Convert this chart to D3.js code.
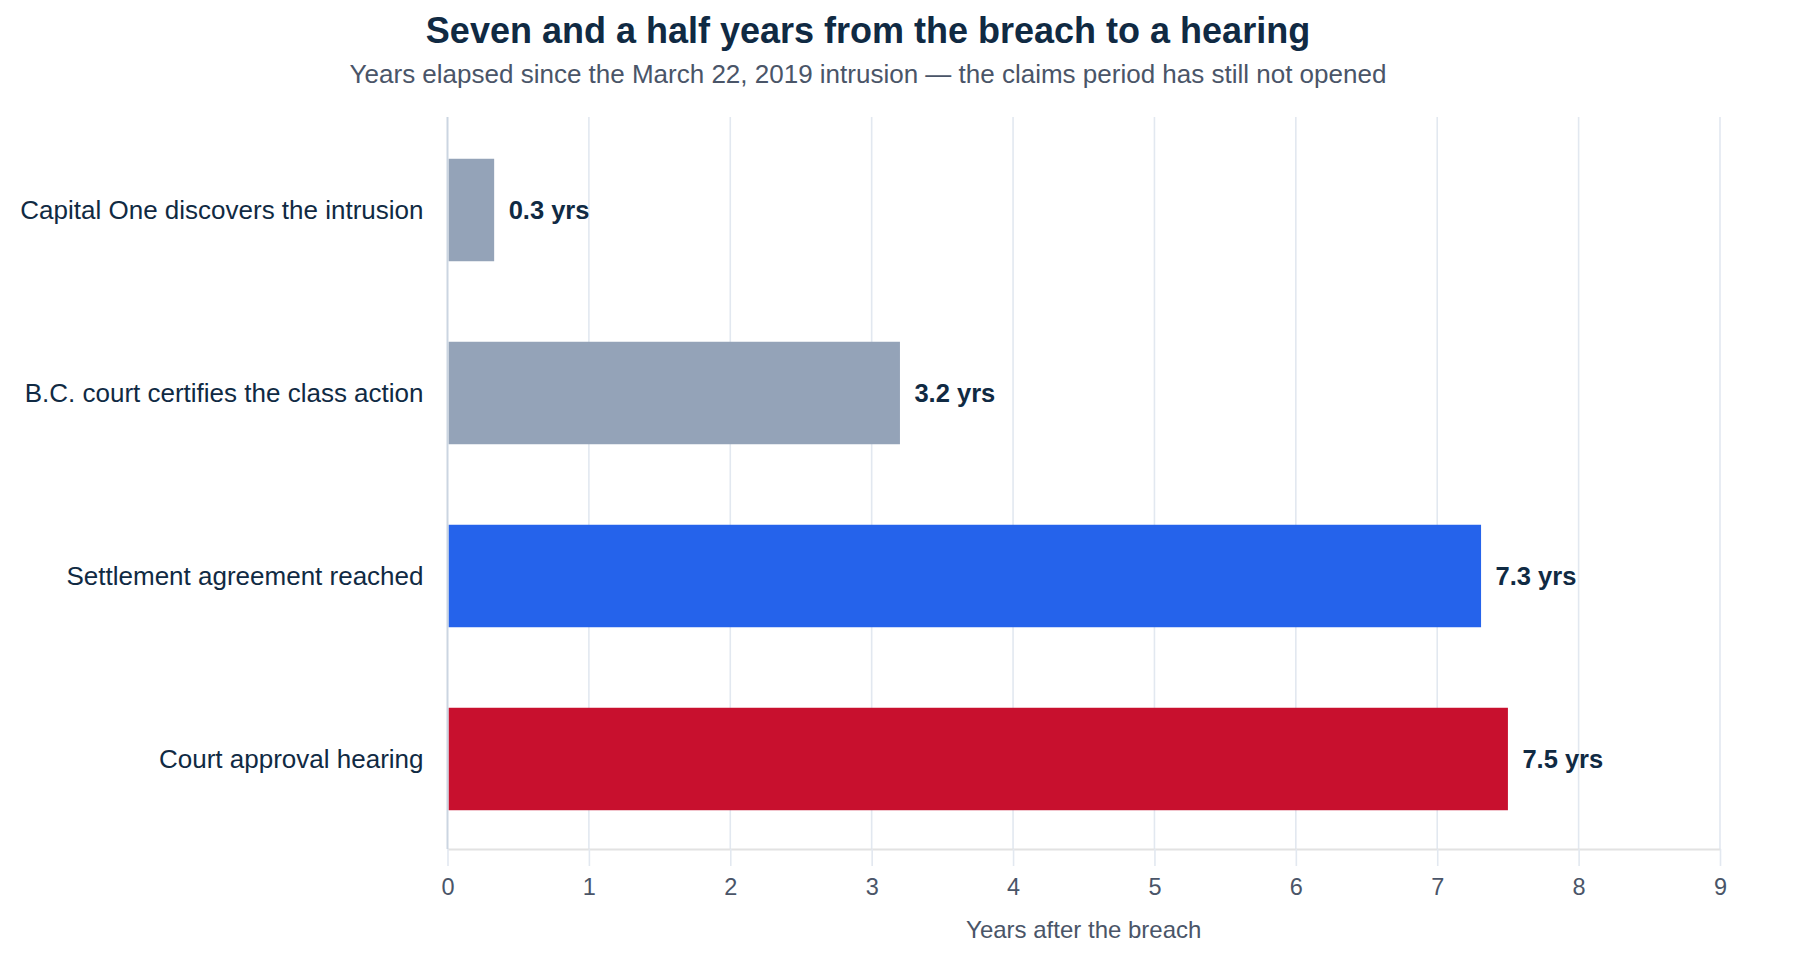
<!DOCTYPE html>
<html>
<head>
  <meta charset="utf-8">
  <title>Seven and a half years from the breach to a hearing</title>
  <style>
    body { margin: 0; background: #fff; }
    svg text { font-family: "Liberation Sans", Arial, sans-serif; }
  </style>
</head>
<body>
  <div id="chart"></div>

  <script src="https://d3js.org/d3.v7.min.js"></script>
  <script>
    // Data
    const milestones = [
      "Capital One discovers the intrusion",
      "B.C. court certifies the class action",
      "Settlement agreement reached",
      "Court approval hearing"
    ];
    const yearsAfter = [0.33, 3.2, 7.31, 7.5];
    const barColors = ["#94a3b8", "#94a3b8", "#2563eb", "#c8102e"];
    const xTicks = [0, 1, 2, 3, 4, 5, 6, 7, 8, 9];

    const data = milestones.map((m, i) => ({ label: m, value: yearsAfter[i], color: barColors[i] }));

    const width = 1800, height = 960;
    const margin = { top: 117, right: 80, bottom: 111, left: 447.5 };

    const svg = d3.select("#chart")
      .append("svg")
      .attr("width", width)
      .attr("height", height)
      .attr("viewBox", [0, 0, width, height]);

    // Scales
    const xScale = d3.scaleLinear()
      .domain([0, 9])
      .range([margin.left, width - margin.right]);

    const yScale = d3.scaleBand()
      .domain(milestones)
      .range([margin.top + 1.5, height - margin.bottom + 1.5])
      .paddingInner(0.44)
      .paddingOuter(0.22);

    // Title and subtitle
    svg.append("text")
      .attr("x", 868)
      .attr("y", 43)
      .attr("text-anchor", "middle")
      .attr("font-size", 36)
      .attr("font-weight", "bold")
      .attr("fill", "#102a43")
      .text("Seven and a half years from the breach to a hearing");

    svg.append("text")
      .attr("x", 868)
      .attr("y", 83)
      .attr("text-anchor", "middle")
      .attr("font-size", 26)
      .attr("fill", "#4a5568")
      .text("Years elapsed since the March 22, 2019 intrusion \u2014 the claims period has still not opened");

    // Vertical gridlines
    svg.append("g")
      .selectAll("line")
      .data(xTicks.slice(1))
      .join("line")
      .attr("x1", d => xScale(d))
      .attr("x2", d => xScale(d))
      .attr("y1", margin.top)
      .attr("y2", height - margin.bottom)
      .attr("stroke", "#e2e8f0")
      .attr("stroke-width", 1.6);

    // X axis
    const xAxis = d3.axisBottom(xScale)
      .tickValues(xTicks)
      .tickFormat(d3.format("d"))
      .tickSizeInner(17)
      .tickSizeOuter(0)
      .tickPadding(12);

    const gx = svg.append("g")
      .attr("transform", `translate(0, ${height - margin.bottom})`)
      .call(xAxis);

    gx.select(".domain")
      .attr("stroke", "#e2e2e2")
      .attr("stroke-width", 2);
    gx.selectAll(".tick line")
      .attr("stroke", "#e2e8f0")
      .attr("stroke-width", 1.6);
    gx.selectAll(".tick text")
      .attr("font-size", 23.5)
      .attr("fill", "#4a5568");

    svg.append("text")
      .attr("x", (margin.left + width - margin.right) / 2)
      .attr("y", 938)
      .attr("text-anchor", "middle")
      .attr("font-size", 24)
      .attr("fill", "#4a5568")
      .text("Years after the breach");

    // Bars
    svg.append("g")
      .selectAll("rect")
      .data(data)
      .join("rect")
      .attr("x", xScale(0) + 1)
      .attr("y", d => yScale(d.label))
      .attr("width", d => xScale(d.value) - xScale(0) - 1)
      .attr("height", yScale.bandwidth())
      .attr("fill", d => d.color);

    // Y axis line and category labels
    svg.append("line")
      .attr("x1", xScale(0))
      .attr("x2", xScale(0))
      .attr("y1", margin.top)
      .attr("y2", height - margin.bottom)
      .attr("stroke", "#cbd5e1")
      .attr("stroke-width", 2);

    svg.append("g")
      .selectAll("text")
      .data(data)
      .join("text")
      .attr("x", xScale(0) - 24)
      .attr("y", d => yScale(d.label) + yScale.bandwidth() / 2)
      .attr("dy", "0.35em")
      .attr("text-anchor", "end")
      .attr("font-size", 26)
      .attr("fill", "#102a43")
      .text(d => d.label);

    // Value labels
    svg.append("g")
      .selectAll("text")
      .data(data)
      .join("text")
      .attr("x", d => xScale(d.value) + 14.5)
      .attr("y", d => yScale(d.label) + yScale.bandwidth() / 2)
      .attr("dy", "0.35em")
      .attr("font-size", 25.5)
      .attr("font-weight", "bold")
      .attr("fill", "#102a43")
      .text(d => d.value.toFixed(1) + " yrs");
  </script>
</body>
</html>
